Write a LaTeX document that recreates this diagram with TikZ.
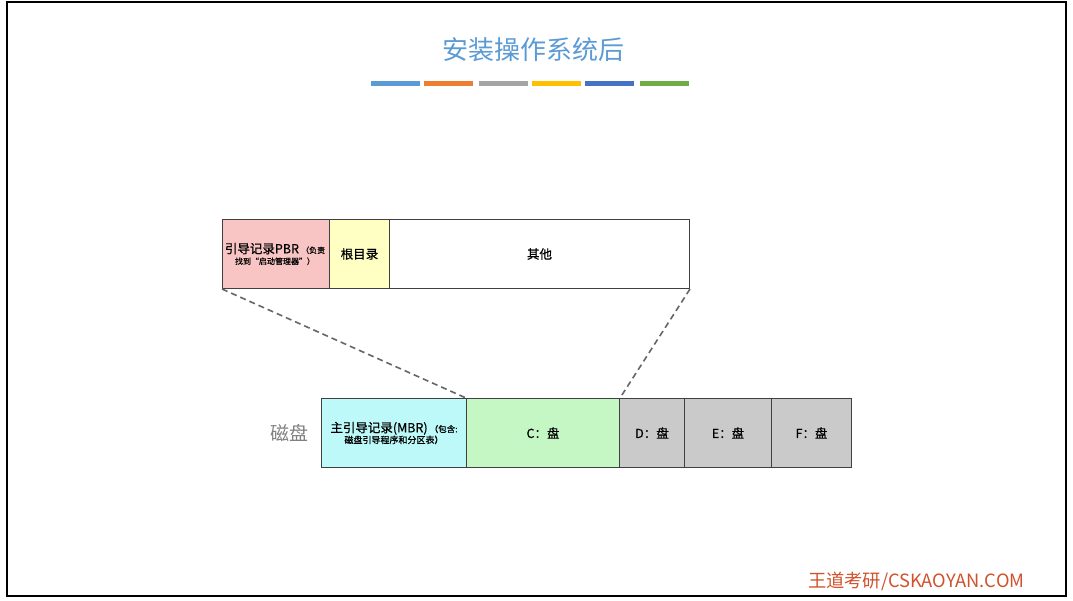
\documentclass[tikz,border=0pt]{standalone}
\usepackage{fontspec}
\setmainfont{Noto Sans CJK SC}
\newfontfamily\semibold{Noto Sans CJK SC}[FakeBold=0.6]
\usetikzlibrary{positioning}
\definecolor{titleblue}{HTML}{5B9BD5}
\definecolor{barA}{HTML}{5B9BD5}
\definecolor{barB}{HTML}{ED7D31}
\definecolor{barC}{HTML}{A5A5A5}
\definecolor{barD}{HTML}{FFC000}
\definecolor{barE}{HTML}{4472C4}
\definecolor{barF}{HTML}{70AD47}
\definecolor{pinkfill}{HTML}{F8C4C4}
\definecolor{yellowfill}{HTML}{FFFFC4}
\definecolor{cyanfill}{HTML}{BDF9F9}
\definecolor{greenfill}{HTML}{C4F7C4}
\definecolor{grayfill}{HTML}{CACACA}
\definecolor{brandred}{HTML}{D0522C}
\tikzset{
  cell/.style={draw=black!75, line width=1pt, inner sep=0pt, anchor=north west, align=center, font=\semibold\fontsize{12.5}{15}\selectfont},
  zoomline/.style={draw=black!60, dashed, dash pattern=on 6pt off 4pt, line width=1.6pt}
}
\begin{document}
\begin{tikzpicture}[x=1pt,y=-1pt]
\useasboundingbox (0,0) rectangle (1073,600);
\fill[white] (0,0) rectangle (1073,600);
\draw[black, line width=2.2pt] (7,2) rectangle (1066,596);
% title
\node[text=titleblue, font=\fontsize{26}{30}\selectfont] (title) at (533,50) {安装操作系统后};
\foreach \a/\c in {371/barA,424/barB,479/barC,532/barD,585/barE,640/barF}{
  \fill[\c] (\a,80.5) rectangle ++(49,5);
}
% upper row
\node[cell, fill=pinkfill, minimum width=107pt, minimum height=69pt] (pbr) at (222,219) {};
\node[align=center, inner sep=0pt, font=\semibold] (pbrtxt) at ([xshift=-1pt]pbr.center) {\fontsize{12.5}{15}\selectfont 引导记录PBR\,\fontsize{8}{9}\selectfont（负责\\[-1pt]\fontsize{8}{10}\selectfont 找到“启动管理器”）};
\node[cell, fill=yellowfill, minimum width=60pt, minimum height=69pt] (root) at (329,219) {根目录};
\node[cell, fill=white, minimum width=300pt, minimum height=69pt] (other) at (389,219) {其他};
% lower row
\node[cell, fill=cyanfill, minimum width=145pt, minimum height=69pt] (mbr) at (321,398) {};
\node[align=center, inner sep=0pt, font=\semibold] (mbrtxt) at (mbr.center) {\fontsize{12.5}{15}\selectfont 主引导记录(MBR)\,\fontsize{8.5}{10}\selectfont（包含:\\[-1pt]\fontsize{9}{11}\selectfont 磁盘引导程序和分区表）};
\node[cell, fill=greenfill, minimum width=153pt, minimum height=69pt] (c) at (466,398) {C：盘};
\node[cell, fill=grayfill, minimum width=65pt, minimum height=69pt] (d) at (619,398) {D：盘};
\node[cell, fill=grayfill, minimum width=87pt, minimum height=69pt] (e) at (684,398) {E：盘};
\node[cell, fill=grayfill, minimum width=80pt, minimum height=69pt] (f) at (771,398) {F：盘};
\node[text=black!50, font=\fontsize{19}{22}\selectfont] (disk) at (289,433) {磁盘};
% zoom lines
\draw[zoomline] (pbr.south west) -- (c.north west);
\draw[zoomline] (other.south east) -- (c.north east);
% brand
\node[text=brandred, font=\fontsize{18.3}{20}\selectfont, anchor=east] (brand) at (1028,581) {王道考研/CSKAOYAN.COM};
\end{tikzpicture}
\end{document}
